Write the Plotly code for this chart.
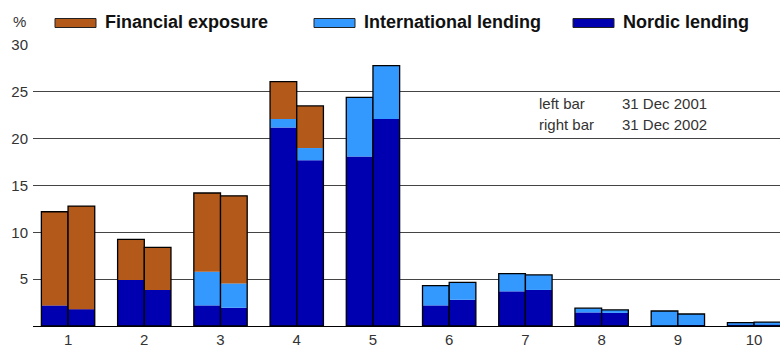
import plotly.graph_objects as go

categories = [1, 2, 3, 4, 5, 6, 7, 8, 9, 10]

# 31 Dec 2001 (left bar of each pair)
nordic_2001 = [2.2, 4.9, 2.2, 21.2, 18.1, 2.2, 3.7, 1.45, 0.03, 0.12]
intl_2001 = [0.0, 0.0, 3.6, 0.9, 6.3, 2.1, 1.9, 0.45, 1.57, 0.23]
fin_2001 = [10.0, 4.35, 8.4, 4.0, 0.0, 0.0, 0.0, 0.0, 0.0, 0.0]

# 31 Dec 2002 (right bar of each pair)
nordic_2002 = [1.8, 3.85, 1.95, 17.7, 22.1, 2.8, 3.85, 1.4, 0.1, 0.12]
intl_2002 = [0.0, 0.0, 2.6, 1.3, 5.7, 1.85, 1.6, 0.32, 1.18, 0.3]
fin_2002 = [11.0, 4.55, 9.35, 4.5, 0.0, 0.0, 0.0, 0.0, 0.0, 0.0]

series_names = ["Financial exposure", "International lending", "Nordic lending"]
colors = {"fin": "#B35A1B", "intl": "#3399FF", "nordic": "#0000B0"}

BAR_W = 0.35

fig = go.Figure()


def add_stack(nordic, intl, fin, offset):
    base_intl = list(nordic)
    base_fin = [a + b for a, b in zip(nordic, intl)]
    total = [a + b + c for a, b, c in zip(nordic, intl, fin)]
    for vals, base, col in [
        (nordic, [0] * len(nordic), colors["nordic"]),
        (intl, base_intl, colors["intl"]),
        (fin, base_fin, colors["fin"]),
    ]:
        fig.add_trace(go.Bar(
            x=categories, y=vals, base=base, width=BAR_W, offset=offset,
            marker=dict(color=col, line=dict(width=0)),
            showlegend=False, hoverinfo="skip",
        ))
    # outline around the whole stacked bar
    fig.add_trace(go.Bar(
        x=categories, y=total, width=BAR_W, offset=offset,
        marker=dict(color="rgba(0,0,0,0)", line=dict(color="#000000", width=1.3)),
        showlegend=False, hoverinfo="skip",
    ))


add_stack(nordic_2001, intl_2001, fin_2001, -BAR_W)
add_stack(nordic_2002, intl_2002, fin_2002, 0.0)

# legend drawn as swatches plus bold labels
legend_x = [55, 314, 573]
legend_cols = [colors["fin"], colors["intl"], colors["nordic"]]
shapes = []
annotations = []
for lx, col, name in zip(legend_x, legend_cols, series_names):
    shapes.append(dict(type="rect", xref="paper", yref="paper",
                       x0=(lx - 33) / 747, x1=(lx + 41 - 33) / 747,
                       y0=(326 - 27.5) / 281, y1=(326 - 18.5) / 281,
                       fillcolor=col, line=dict(color="#222222", width=1)))
    annotations.append(dict(text="<b>" + name + "</b>", xref="paper", yref="paper",
                            x=(lx + 48 - 33) / 747, y=(326 - 22.5) / 281,
                            xanchor="left", yanchor="middle", showarrow=False,
                            font=dict(size=18, color="#111111",
                                      family="Liberation Sans, Arial, sans-serif")))

annotations.append(dict(text="%", xref="paper", yref="paper",
                        x=(11 - 33) / 747, y=(326 - 22) / 281,
                        xanchor="left", yanchor="middle", showarrow=False,
                        font=dict(size=15, color="#333333")))

for txt, xx, yy in [("left bar", 537, 103), ("31 Dec 2001", 620, 103),
                    ("right bar", 537, 125), ("31 Dec 2002", 620, 125)]:
    annotations.append(dict(text=txt, xref="paper", yref="paper",
                            x=(xx - 33) / 747, y=(326 - yy) / 281,
                            xanchor="left", yanchor="middle", showarrow=False,
                            font=dict(size=15, color="#333333")))

fig.update_layout(
    width=780, height=349,
    margin=dict(l=33, r=0, t=45, b=23),
    paper_bgcolor="white", plot_bgcolor="white",
    barmode="overlay",
    font=dict(family="Liberation Sans, Arial, sans-serif", size=15, color="#333333"),
    shapes=shapes, annotations=annotations,
    xaxis=dict(range=[0.54, 10.34], tickvals=categories,
               ticktext=[str(c) for c in categories],
               showgrid=False, zeroline=False, showline=True,
               linecolor="#000000", linewidth=1.3, ticks="",
               tickfont=dict(size=15, color="#333333")),
    yaxis=dict(range=[0, 30], tickvals=[5, 10, 15, 20, 25, 30],
               showgrid=True, gridcolor="#444444", gridwidth=1.3,
               zeroline=False, showline=False, ticks="",
               tickfont=dict(size=15, color="#333333"), ticklabelstandoff=4),
)

fig.write_html("out.html")
